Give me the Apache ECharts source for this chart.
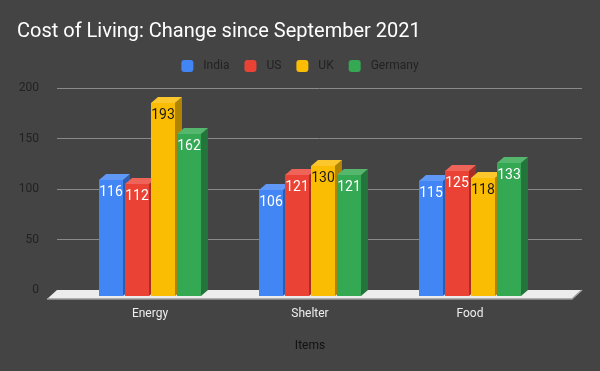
<!DOCTYPE html>
<html><head><meta charset="utf-8">
<script src="https://cdn.jsdelivr.net/npm/echarts@6/dist/echarts.min.js"></script>
<style>html,body{margin:0;padding:0;background:#444444}#c{width:600px;height:371px}</style>
</head><body><div id="c"></div>
<script>
const categories = ['Energy', 'Shelter', 'Food'];
const seriesNames = ['India', 'US', 'UK', 'Germany'];
const india = [116, 106, 115];
const us = [112, 121, 125];
const uk = [193, 130, 118];
const germany = [162, 121, 133];
const yMin = 0, yMax = 200, yInterval = 50;

const values = [india, us, uk, germany];
const colors = ['#4285F4', '#EA4335', '#FBBC04', '#34A853'];
const topColors = ['#5f98f6', '#ee6459', '#fcc62d', '#55b66e'];
const sideColors = ['#2d5db0', '#a82f25', '#b08400', '#24753b'];
const labelColors = ['#ffffff', '#ffffff', '#1a1a1a', '#ffffff'];
const FONT = 'Roboto';

const chart = echarts.init(document.getElementById('c'), null, {renderer: 'canvas'});

function barRender(si) {
  return function (params, api) {
    const cat = api.value(0), v = api.value(1);
    const band = api.size([1, 0])[0];
    const bw = band * 0.15, gap = band * 0.0125;
    const base = api.coord([cat, 0]);
    const top = api.coord([cat, v])[1];
    const y0 = base[1];
    const xl = base[0] - (4 * bw + 3 * gap) / 2 + si * (bw + gap);
    const dx = 7, dy = 6;
    return {
      type: 'group',
      children: [
        {type: 'polygon', shape: {points: [[xl + bw, top], [xl + bw + dx, top - dy], [xl + bw + dx, y0 - dy], [xl + bw, y0]]}, style: {fill: sideColors[si]}},
        {type: 'polygon', shape: {points: [[xl, top], [xl + dx, top - dy], [xl + bw + dx, top - dy], [xl + bw, top]]}, style: {fill: topColors[si]}},
        {type: 'rect', shape: {x: xl, y: top, width: bw, height: y0 - top}, style: {fill: colors[si]}},
        {type: 'text', style: {text: String(v), x: xl + bw / 2, y: top + 12.5, align: 'center', verticalAlign: 'middle', fill: labelColors[si], font: '14px ' + FONT}}
      ]
    };
  };
}

const series = [{
  type: 'custom', xAxisIndex: 0, yAxisIndex: 0, z: 1, silent: true,
  data: [[0, 0]],
  renderItem: function (params, api) {
    const cs = params.coordSys;
    const yb = cs.y + cs.height;
    const xl = cs.x, xr = cs.x + cs.width;
    return {
      type: 'group', children: [
        {type: 'polygon', shape: {points: [[xl, yb], [xr, yb], [xr - 10, yb + 9], [xl - 10, yb + 9]]}, style: {fill: '#ececec'}},
        {type: 'polyline', shape: {points: [[xl - 10, yb + 9], [xr - 10, yb + 9], [xr, yb]]}, style: {stroke: '#9a9a9a', lineWidth: 1.5, fill: null}}
      ]
    };
  }
}];
seriesNames.forEach(function (name, si) {
  series.push({
    type: 'custom', name: name, xAxisIndex: 1, yAxisIndex: 1, z: 2 + si,
    itemStyle: {color: colors[si]},
    data: values[si].map(function (v, i) { return [i, v]; }),
    renderItem: barRender(si)
  });
});

chart.setOption({
  backgroundColor: '#444444',
  animation: false,
  textStyle: {fontFamily: FONT},
  title: {text: 'Cost of Living: Change since September 2021', left: 12, top: 17,
    textStyle: {color: '#ffffff', fontSize: 20, fontWeight: 'normal', fontFamily: FONT}},
  legend: {data: seriesNames, top: 55, left: 'center', icon: 'roundRect', itemWidth: 12, itemHeight: 12, itemGap: 15,
    textStyle: {color: '#222222', fontSize: 12, fontFamily: FONT, padding: [0, 0, 0, 5]}},
  grid: [
    {left: 57, right: 18, top: 88, bottom: 81},
    {left: 70, right: 50, top: 96, bottom: 75}
  ],
  xAxis: [
    {type: 'value', gridIndex: 0, min: 0, max: 1, show: false},
    {type: 'category', gridIndex: 1, data: categories, axisLine: {show: false}, axisTick: {show: false},
      axisLabel: {color: '#eeeeee', fontSize: 12, margin: 12, fontFamily: FONT},
      name: 'Items', nameLocation: 'middle', nameGap: 44, nameTextStyle: {color: '#111111', fontSize: 12, fontFamily: FONT}}
  ],
  yAxis: [
    {type: 'value', gridIndex: 0, min: yMin, max: yMax, interval: yInterval,
      axisLine: {show: false}, axisTick: {show: false},
      axisLabel: {color: '#222222', fontSize: 12, margin: 18, fontFamily: FONT},
      splitLine: {lineStyle: {color: '#8a8a8a', width: 1}}},
    {type: 'value', gridIndex: 1, min: yMin, max: yMax, interval: yInterval, show: false, splitLine: {show: false}}
  ],
  series: series
});
</script></body></html>
